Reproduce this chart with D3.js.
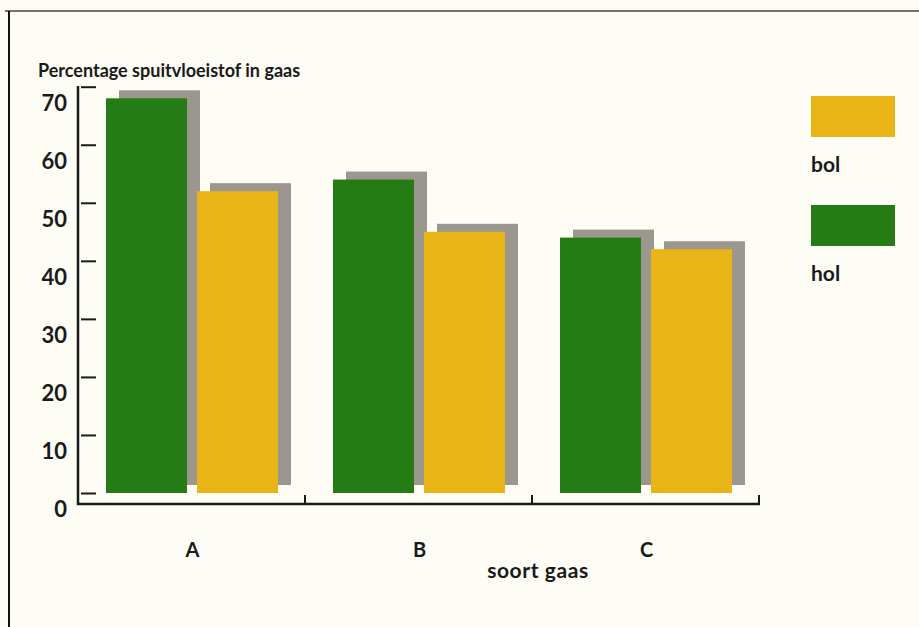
<!DOCTYPE html>
<html>
<head>
<meta charset="utf-8">
<script src="https://cdn.jsdelivr.net/npm/d3@7"></script>
<style>
  html, body { margin: 0; padding: 0; background: #fdfcf5; }
  svg { display: block; }
  text { font-family: "Lato", "Open Sans", sans-serif; font-weight: 700; fill: #1a1a1a; }
</style>
</head>
<body>
<script>
const categories = ["A", "B", "C"];
const seriesNames = ["hol", "bol"];
const holValues = [68, 54, 44];
const bolValues = [52, 45, 42];
const yTicks = [0, 10, 20, 30, 40, 50, 60, 70];
const legendOrder = ["bol", "hol"];

const W = 919, H = 627;
const colors = { hol: "#267c14", bol: "#e9b416" };
const shadowColor = "#9b968e";

const svg = d3.select("body").append("svg").attr("width", W).attr("height", H);

// frame
svg.append("rect").attr("x", 0).attr("y", 0).attr("width", W).attr("height", H).attr("fill", "#fdfcf5");
svg.append("line").attr("x1", 5).attr("x2", W).attr("y1", 11).attr("y2", 11).attr("stroke", "#444").attr("stroke-width", 1.5);
svg.append("line").attr("x1", 9).attr("x2", 9).attr("y1", 11).attr("y2", H).attr("stroke", "#111").attr("stroke-width", 2);

const y = d3.scaleLinear().domain([0, 70]).range([493, 86.7]);
const x0 = d3.scaleBand().domain(categories).range([78, 759]);
const x1 = d3.scaleBand().domain(seriesNames).range([28, 200]).paddingInner(0.11);

const data = categories.map((c, i) => ({ cat: c, hol: holValues[i], bol: bolValues[i] }));

const sdx = 13, sdy = 8;

const groups = svg.append("g").selectAll("g").data(data).join("g")
  .attr("transform", d => `translate(${x0(d.cat)},0)`);

// shadows
groups.selectAll("rect.shadow").data(d => seriesNames.map(s => ({ s, v: d[s] })))
  .join("rect").attr("class", "shadow")
  .attr("x", d => x1(d.s) + sdx)
  .attr("y", d => y(d.v) - sdy)
  .attr("width", x1.bandwidth())
  .attr("height", d => y(0) - y(d.v))
  .attr("fill", shadowColor);

// bars
groups.selectAll("rect.bar").data(d => seriesNames.map(s => ({ s, v: d[s] })))
  .join("rect").attr("class", "bar")
  .attr("x", d => x1(d.s))
  .attr("y", d => y(d.v))
  .attr("width", x1.bandwidth())
  .attr("height", d => y(0) - y(d.v))
  .attr("fill", d => colors[d.s]);

// y axis
const yAxis = d3.axisRight(y).tickValues(yTicks).tickSize(15).tickFormat("");
const gy = svg.append("g").attr("transform", "translate(81,0)").call(yAxis);
gy.select(".domain").remove();
gy.selectAll(".tick line").attr("stroke", "#1a1a1a").attr("stroke-width", 2);

svg.append("line").attr("x1", 78).attr("x2", 78).attr("y1", 86).attr("y2", 505)
  .attr("stroke", "#1a1a1a").attr("stroke-width", 2.5);

svg.append("g").selectAll("text").data(yTicks).join("text")
  .attr("x", 67).attr("y", d => y(d) + 24)
  .attr("text-anchor", "end")
  .style("font-size", "22px")
  .text(d => d);

// x axis
svg.append("line").attr("x1", 77).attr("x2", 760).attr("y1", 504).attr("y2", 504)
  .attr("stroke", "#1a1a1a").attr("stroke-width", 2.5);
svg.append("g").selectAll("line").data(categories).join("line")
  .attr("x1", d => x0(d) + x0.bandwidth()).attr("x2", d => x0(d) + x0.bandwidth())
  .attr("y1", 495).attr("y2", 504)
  .attr("stroke", "#1a1a1a").attr("stroke-width", 2);

svg.append("g").selectAll("text").data(categories).join("text")
  .attr("x", d => x0(d) + x0.bandwidth() / 2 + 1)
  .attr("y", 557)
  .attr("text-anchor", "middle")
  .style("font-size", "20px")
  .text(d => d);

svg.append("text").attr("x", 538).attr("y", 578).attr("text-anchor", "middle")
  .style("font-size", "21px").style("letter-spacing", "0.6px").text("soort gaas");

svg.append("text").attr("x", 38).attr("y", 77)
  .style("font-size", "18px").text("Percentage spuitvloeistof in gaas");

// legend
const lg = svg.append("g").selectAll("g").data(legendOrder).join("g")
  .attr("transform", (d, i) => `translate(811,${96 + i * 109})`);
lg.append("rect").attr("width", 84).attr("height", 41).attr("fill", d => colors[d]);
lg.append("text").attr("x", 0).attr("y", 76).style("font-size", "21px").text(d => d);
</script>
</body>
</html>
